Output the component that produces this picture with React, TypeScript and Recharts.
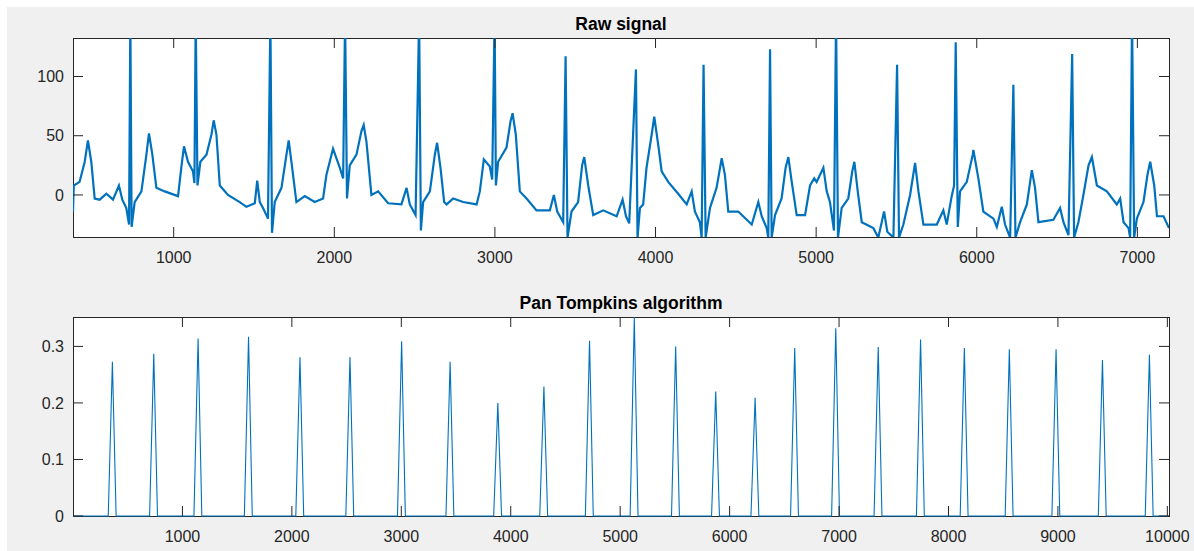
import { Line, LineChart, XAxis, YAxis } from 'recharts'

// raw ECG trace, [sample, amplitude] (R peaks above 132 are clipped)
const rawPoints: number[][] = [
    [373, -14], [378, 8], [414, 11], [446, 28], [466, 46], [487, 28], [508, -3], [539, -4], [581, 1], [622, -4],
    [659, 8], [680, -4], [705, -11], [722, -25], [730, 150], [738, -27], [757, -6], [799, 3], [830, 34], [846, 52],
    [867, 34], [892, 6], [944, 3], [1027, -1], [1048, 24], [1064, 41], [1089, 28], [1120, 20], [1129, 10], [1137, 150],
    [1148, 8], [1166, 28], [1204, 34], [1235, 51], [1249, 63], [1266, 51], [1287, 8], [1338, 0], [1411, -6], [1453, -10],
    [1505, -7], [1520, 12], [1536, -6], [1556, -11], [1587, -20], [1602, 150], [1612, -32], [1629, -6], [1671, 6], [1702, 34],
    [1716, 46], [1733, 28], [1764, -6], [1816, -1], [1878, -6], [1930, -3], [1951, 17], [1992, 39], [2034, 23], [2055, 14],
    [2067, 150], [2079, -3], [2096, 25], [2138, 34], [2169, 54], [2183, 59], [2200, 45], [2231, 0], [2273, 3], [2335, -7],
    [2418, -8], [2450, 6], [2470, -8], [2506, -17], [2528, 150], [2539, -30], [2553, -6], [2595, 3], [2626, 34], [2640, 44],
    [2661, 23], [2684, -6], [2699, -8], [2740, -3], [2802, -6], [2886, -8], [2906, 3], [2931, 30], [2968, 24], [2983, 13],
    [2998, 150], [3006, 8], [3020, 28], [3072, 40], [3097, 62], [3110, 69], [3130, 51], [3155, 3], [3197, -3], [3259, -13],
    [3342, -13], [3367, 0], [3388, -14], [3425, -23], [3440, 117], [3452, -36], [3477, -14], [3518, -6], [3543, 25], [3556, 32],
    [3581, 8], [3612, -17], [3674, -13], [3758, -18], [3795, -4], [3816, -18], [3836, -24], [3878, 106], [3888, -36], [3903, -11],
    [3923, -8], [3944, 23], [3976, 51], [3992, 66], [4017, 42], [4038, 20], [4079, 11], [4141, 1], [4194, -8], [4225, 3],
    [4245, -14], [4276, -23], [4287, -36], [4299, 110], [4312, -36], [4339, -11], [4380, 6], [4412, 31], [4432, 17], [4453, -14],
    [4515, -14], [4599, -25], [4640, -6], [4661, -18], [4692, -28], [4702, -36], [4713, 123], [4723, -36], [4744, -17], [4785, -3],
    [4810, 23], [4827, 32], [4848, 11], [4879, -17], [4931, -17], [4962, 8], [4988, 14], [5003, 11], [5045, 23], [5066, 3],
    [5086, -6], [5111, -30], [5124, 150], [5136, -36], [5159, -11], [5200, -3], [5225, 20], [5238, 28], [5259, 3], [5284, -23],
    [5356, -28], [5387, -36], [5423, -14], [5443, -31], [5481, -36], [5504, 110], [5516, -36], [5543, -25], [5585, 0], [5616, 27],
    [5637, 3], [5668, -25], [5751, -25], [5792, -13], [5813, -25], [5844, -1], [5859, 8], [5869, 129], [5882, -27], [5896, 3],
    [5938, 11], [5975, 34], [5979, 38], [6010, 14], [6041, -14], [6104, -20], [6125, -27], [6156, -10], [6176, -25], [6208, -36],
    [6228, 93], [6241, -36], [6270, -23], [6312, -8], [6343, 21], [6363, 6], [6384, -23], [6477, -21], [6519, -11], [6540, -23],
    [6571, -34], [6594, 119], [6606, -36], [6633, -23], [6664, 0], [6696, 25], [6717, 32], [6748, 8], [6810, 3], [6872, -8],
    [6893, -3], [6914, -23], [6945, -28], [6955, -36], [6967, 150], [6980, -36], [6997, -20], [7038, -6], [7063, 17], [7080, 28],
    [7105, 8], [7122, -18], [7163, -18], [7197, -28],
]

// Pan Tompkins output, foot / peak / foot per beat
const ptPoints: number[][] = [
    [0, 0], [322, 0], [360, 0.273], [394, 0], [700, 0], [738, 0.287], [772, 0], [1105, 0], [1143, 0.314], [1177, 0],
    [1566, 0], [1604, 0.317], [1638, 0], [2036, 0], [2074, 0.281], [2108, 0], [2493, 0], [2531, 0.281], [2565, 0],
    [2965, 0], [3003, 0.309], [3037, 0], [3408, 0], [3446, 0.273], [3480, 0], [3844, 0], [3882, 0.2], [3916, 0],
    [4265, 0], [4303, 0.229], [4337, 0], [4682, 0], [4720, 0.31], [4754, 0], [5091, 0], [5129, 0.352], [5163, 0],
    [5469, 0], [5507, 0.3], [5541, 0], [5835, 0], [5873, 0.22], [5907, 0], [6195, 0], [6233, 0.209], [6267, 0],
    [6557, 0], [6595, 0.297], [6629, 0], [6932, 0], [6970, 0.332], [7004, 0], [7320, 0], [7358, 0.299], [7392, 0],
    [7707, 0], [7745, 0.312], [7779, 0], [8107, 0], [8145, 0.297], [8179, 0], [8518, 0], [8556, 0.295], [8590, 0],
    [8945, 0], [8983, 0.295], [9017, 0], [9369, 0], [9407, 0.276], [9441, 0], [9798, 0], [9836, 0.285], [9870, 0],
    [10015, 0],
]

const rawXDomain = [373, 7197]
const rawYDomain = [-35.5, 132.5]
const rawXTicks = [1000, 2000, 3000, 4000, 5000, 6000, 7000]
const rawYTicks = [0, 50, 100]

const ptXDomain = [0, 10015]
const ptYDomain = [0, 0.352]
const ptXTicks = [1000, 2000, 3000, 4000, 5000, 6000, 7000, 8000, 9000, 10000]
const ptYTicks = [0, 0.1, 0.2, 0.3]

const W = 1187
const H = 275
const PLOT_L = 66
const PLOT_T = 31
const PLOT_W = 1096
const PLOT_H = 199
const FONT = '"Liberation Sans", Arial, Helvetica, sans-serif'
const AXIS_COLOR = '#262626'
const LINE_COLOR = '#0072BD'
const TICK_LEN = 10

// matlab style ticks: inward, mirrored on the opposite side
const XTick = (props: any) => {
    const { x, y, payload } = props
    return (
        <g>
            <line x1={x} x2={x} y1={y} y2={y - TICK_LEN} stroke={AXIS_COLOR} />
            <line x1={x} x2={x} y1={y - PLOT_H} y2={y - PLOT_H + TICK_LEN} stroke={AXIS_COLOR} />
            <text x={x} y={y + 26} textAnchor="middle" fontSize={16} fill={AXIS_COLOR} fontFamily={FONT}>
                {payload.value}
            </text>
        </g>
    )
}

const YTick = (props: any) => {
    const { x, y, payload } = props
    return (
        <g>
            <line x1={x} x2={x + TICK_LEN} y1={y} y2={y} stroke={AXIS_COLOR} />
            <line x1={x + PLOT_W} x2={x + PLOT_W - TICK_LEN} y1={y} y2={y} stroke={AXIS_COLOR} />
            <text x={x - 9} y={y + 5.7} textAnchor="end" fontSize={16} fill={AXIS_COLOR} fontFamily={FONT}>
                {payload.value}
            </text>
        </g>
    )
}

type PanelProps = {
    top: number
    title: string
    points: number[][]
    xDomain: number[]
    yDomain: number[]
    xTicks: number[]
    yTicks: number[]
    strokeWidth: number
    clip: boolean
}

const Panel = (p: PanelProps) => {
    const data = p.points.map(([x, y]) => ({ x, y }))
    return (
        <div style={{ position: 'absolute', left: 0, top: p.top, width: W, height: H }}>
            {/* white axes box, the line is drawn over its border */}
            <div style={{
                position: 'absolute', left: PLOT_L - 0.5, top: PLOT_T - 0.5, width: PLOT_W - 1, height: PLOT_H - 1,
                background: '#fff', border: `1px solid ${AXIS_COLOR}`
            }} />
            <div style={{
                position: 'absolute', left: PLOT_L, top: 5, width: PLOT_W, textAlign: 'center',
                fontFamily: FONT, fontWeight: 'bold', fontSize: 17.5, color: '#000', lineHeight: '24px'
            }}>
                {p.title}
            </div>
            <div style={{ position: 'absolute', left: 0, top: 0 }}>
                <LineChart width={W} height={H} data={data}
                    margin={{ top: PLOT_T, right: W - PLOT_L - PLOT_W, left: 0, bottom: 0 }}>
                    <XAxis dataKey="x" type="number" domain={p.xDomain} ticks={p.xTicks} interval={0}
                        allowDataOverflow={p.clip} axisLine={false} tickLine={false} tickSize={0} tickMargin={0}
                        height={H - PLOT_T - PLOT_H} tick={<XTick />} />
                    <YAxis type="number" domain={p.yDomain} ticks={p.yTicks} interval={0}
                        allowDataOverflow={p.clip} axisLine={false} tickLine={false} tickSize={0} tickMargin={0}
                        width={PLOT_L} tick={<YTick />} />
                    <Line type="linear" dataKey="y" stroke={LINE_COLOR} strokeWidth={p.strokeWidth}
                        dot={false} activeDot={false} isAnimationActive={false} />
                </LineChart>
            </div>
        </div>
    )
}

export default function App() {
    return (
        <div style={{ position: 'absolute', left: 7, top: 7, width: W, height: 544, background: '#f0f0f0', overflow: 'hidden' }}>
            <Panel top={0} title="Raw signal" points={rawPoints} xDomain={rawXDomain} yDomain={rawYDomain}
                xTicks={rawXTicks} yTicks={rawYTicks} strokeWidth={2.2} clip={true} />
            <Panel top={279} title="Pan Tompkins algorithm" points={ptPoints} xDomain={ptXDomain} yDomain={ptYDomain}
                xTicks={ptXTicks} yTicks={ptYTicks} strokeWidth={1.1} clip={false} />
        </div>
    )
}
